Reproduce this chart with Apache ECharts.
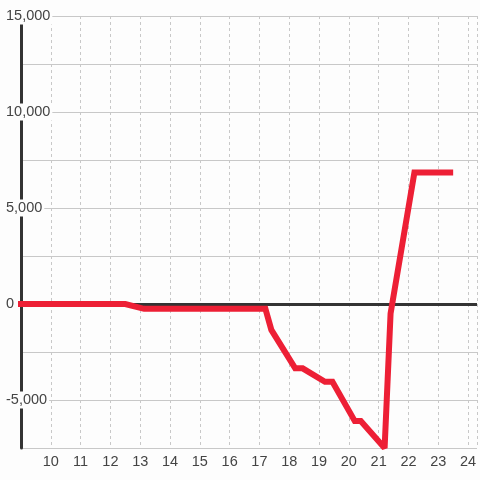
<!DOCTYPE html>
<html>
<head>
<meta charset="utf-8">
<script src="https://cdn.jsdelivr.net/npm/echarts@6/dist/echarts.min.js"></script>
<style>html,body{margin:0;padding:0;background:#fdfdfd;}#c{width:480px;height:480px;}</style>
</head>
<body>
<div id="c"></div>
<script>
const xValues = [8.87, 12.5, 13.13, 17.2, 17.4, 18.2, 18.45, 19.2, 19.45, 20.2, 20.4, 21.2, 21.4, 22.2, 23.5];
const yValues = [0, 0, -250, -250, -1350, -3350, -3350, -4050, -4050, -6100, -6100, -7500, -500, 6850, 6850];
const xTicks = [10, 11, 12, 13, 14, 15, 16, 17, 18, 19, 20, 21, 22, 23, 24];
const yLabelTicks = [-5000, 0, 5000, 10000, 15000];
const baseline = 0;

const chart = echarts.init(document.getElementById('c'));
const font = 'Liberation Sans, Arial, sans-serif';
chart.setOption({
  backgroundColor: '#fdfdfd',
  animation: false,
  grid: { left: 21, right: 0, top: 16, bottom: 32, containLabel: false },
  xAxis: {
    type: 'value', min: 9, max: 24.3, interval: 1, position: 'bottom',
    axisLine: { show: false }, axisTick: { show: false },
    axisLabel: {
      margin: 6, color: '#444', fontSize: 14.5, fontFamily: font,
      formatter: v => xTicks.indexOf(v) >= 0 ? String(v) : ''
    },
    splitLine: { show: true, lineStyle: { color: '#c8c8c8', type: [3, 3], width: 1 } }
  },
  yAxis: [{
    type: 'value', min: -7500, max: 15000, interval: 2500, z: 0,
    axisLine: { show: true, lineStyle: { color: '#333', width: 3 } },
    axisTick: { show: false },
    axisLabel: { show: false },
    splitLine: { show: true, lineStyle: { color: '#c8c8c8', width: 1 } }
  }, {
    type: 'value', min: -7500, max: 15000, interval: 2500, z: 10, position: 'left',
    axisLine: { show: false }, axisTick: { show: false }, splitLine: { show: false },
    axisLabel: {
      align: 'left', margin: 15, color: '#444', fontSize: 14.5, fontFamily: font,
      backgroundColor: '#fdfdfd', padding: [1, 2, 1, 0],
      formatter: v => yLabelTicks.indexOf(v) >= 0 ? v.toLocaleString('en-US') : ''
    }
  }],
  series: [{
    type: 'line', xAxisIndex: 0, yAxisIndex: 0,
    data: xValues.map((x, i) => [x, yValues[i]]),
    showSymbol: false, clip: false,
    lineStyle: { color: '#ed1f35', width: 6, cap: 'butt', join: 'miter', miterLimit: 2 },
    z: 3,
    markLine: {
      z: 2, silent: true, symbol: 'none', label: { show: false },
      lineStyle: { color: '#333', width: 3, type: 'solid' },
      data: [{ yAxis: baseline }]
    }
  }]
});
</script>
</body>
</html>
